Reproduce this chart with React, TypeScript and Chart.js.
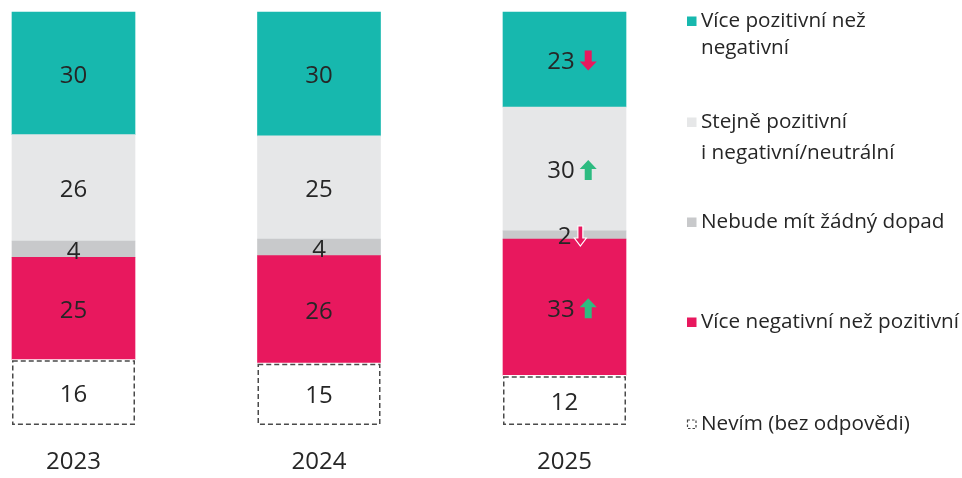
import React, { useEffect, useRef } from 'react';
import { Chart, registerables } from 'chart.js';
Chart.register(...registerables);

// ---- data ----
const years = ['2023', '2024', '2025'];
const dontKnow = [16, 15, 12];
const moreNegative = [25, 26, 33];
const noImpact = [4, 4, 2];
const equally = [26, 25, 30];
const morePositive = [30, 30, 23];

// change vs. previous wave (arrows shown in 2025)
const dontKnowTrend = [null, null, null];
const moreNegativeTrend = [null, null, 'up'];
const noImpactTrend = [null, null, 'down'];
const equallyTrend = [null, null, 'up'];
const morePositiveTrend = [null, null, 'down'];

const seriesNames = [
  'Nevím (bez odpovědi)',
  'Více negativní než pozitivní',
  'Nebude mít žádný dopad',
  'Stejně pozitivní i negativní/neutrální',
  'Více pozitivní než negativní',
];

// legend text lines, top to bottom
const legendPositive = ['Více pozitivní než', 'negativní'];
const legendEqually = ['Stejně pozitivní', 'i negativní/neutrální'];
const legendNoImpact = ['Nebude mít žádný dopad'];
const legendNegative = ['Více negativní než pozitivní'];
const legendDontKnow = ['Nevím (bez odpovědi)'];

// ---- styles ----
const TEAL = '#17b8ae';
const LIGHT = '#e6e7e8';
const MID = '#c8c9cb';
const PINK = '#e8185e';
const GREEN = '#2dbb80';
const TEXT = '#262626';
const FONT = '"Open Sans", sans-serif';

const seriesValues = [dontKnow, moreNegative, noImpact, equally, morePositive];
const seriesTrends = [dontKnowTrend, moreNegativeTrend, noImpactTrend, equallyTrend, morePositiveTrend];
const seriesColors = ['#ffffff', PINK, MID, LIGHT, TEAL];

const totals = years.map((_, i) => seriesValues.reduce((s, arr) => s + arr[i], 0));

function drawArrow(ctx: CanvasRenderingContext2D, cx: number, cy: number, dir: string, small: boolean) {
  const h = 20;
  const headW = small ? 12 : 17;
  const shaftW = small ? 5 : 7;
  const headH = small ? 8 : 9;
  const top = cy - h / 2;
  ctx.save();
  ctx.beginPath();
  if (dir === 'down') {
    ctx.moveTo(cx - shaftW / 2, top);
    ctx.lineTo(cx + shaftW / 2, top);
    ctx.lineTo(cx + shaftW / 2, top + h - headH);
    ctx.lineTo(cx + headW / 2, top + h - headH);
    ctx.lineTo(cx, top + h);
    ctx.lineTo(cx - headW / 2, top + h - headH);
    ctx.lineTo(cx - shaftW / 2, top + h - headH);
  } else {
    const bot = top + h;
    ctx.moveTo(cx - shaftW / 2, bot);
    ctx.lineTo(cx + shaftW / 2, bot);
    ctx.lineTo(cx + shaftW / 2, bot - h + headH);
    ctx.lineTo(cx + headW / 2, bot - h + headH);
    ctx.lineTo(cx, top);
    ctx.lineTo(cx - headW / 2, bot - h + headH);
    ctx.lineTo(cx - shaftW / 2, bot - h + headH);
  }
  ctx.closePath();
  ctx.fillStyle = dir === 'down' ? PINK : GREEN;
  ctx.fill();
  if (small) {
    ctx.strokeStyle = '#ffffff';
    ctx.lineWidth = 1.2;
    ctx.stroke();
  }
  ctx.restore();
}

const overlayPlugin = {
  id: 'overlay',
  afterDatasetsDraw(chart: any) {
    const ctx: CanvasRenderingContext2D = chart.ctx;
    // dashed outline for "Nevím"
    const meta0 = chart.getDatasetMeta(0);
    ctx.save();
    ctx.setLineDash([5, 3]);
    ctx.strokeStyle = '#4a4a4a';
    ctx.lineWidth = 1.5;
    meta0.data.forEach((el: any) => {
      const p = el.getProps(['x', 'y', 'base', 'width'], true);
      ctx.strokeRect(p.x - p.width / 2 + 0.75, p.y + 1.5, p.width - 1.5, p.base - p.y - 2.25);
    });
    ctx.restore();

    // value labels (+ trend arrows)
    ctx.save();
    ctx.font = `400 24px ${FONT}`;
    ctx.fillStyle = TEXT;
    ctx.textBaseline = 'middle';
    seriesValues.forEach((vals, di) => {
      const meta = chart.getDatasetMeta(di);
      meta.data.forEach((el: any, i: number) => {
        const p = el.getProps(['x', 'y', 'base', 'width'], true);
        const cy = (p.y + p.base) / 2 + 2.5;
        const txt = String(vals[i]);
        const trend = seriesTrends[di][i];
        if (!trend) {
          ctx.textAlign = 'center';
          ctx.fillText(txt, p.x, cy);
        } else {
          const small = di === 2;
          const w = ctx.measureText(txt).width;
          const aw = small ? 12 : 17;
          const gap = small ? 3 : 5;
          const total = w + gap + aw;
          const start = p.x + 7.5 - total / 2;
          ctx.textAlign = 'left';
          ctx.fillText(txt, start, cy);
          drawArrow(ctx, start + w + gap + aw / 2, cy - 1.5, trend, small);
        }
      });
    });
    ctx.restore();

    // legend
    const items = [
      { lines: legendPositive, color: TEAL, base: 27, step: 27 },
      { lines: legendEqually, color: LIGHT, base: 128, step: 31 },
      { lines: legendNoImpact, color: MID, base: 228, step: 0 },
      { lines: legendNegative, color: PINK, base: 328, step: 0 },
      { lines: legendDontKnow, color: null, base: 430, step: 0 },
    ];
    ctx.save();
    ctx.font = `500 20.7px ${FONT}`;
    ctx.textAlign = 'left';
    ctx.textBaseline = 'alphabetic';
    items.forEach((it) => {
      const mx = 687, my = it.base - 10.5, ms = 9.5;
      if (it.color) {
        ctx.fillStyle = it.color;
        ctx.fillRect(mx, my, ms, ms);
      } else {
        ctx.save();
        ctx.setLineDash([2.5, 2]);
        ctx.strokeStyle = '#444';
        ctx.lineWidth = 1.2;
        ctx.strokeRect(mx + 0.5, my + 0.5, ms - 1, ms - 1);
        ctx.restore();
      }
      ctx.fillStyle = TEXT;
      it.lines.forEach((ln, k) => ctx.fillText(ln, 701, it.base + k * it.step));
    });
    ctx.restore();
  },
};

export default function App() {
  const ref = useRef<HTMLCanvasElement | null>(null);
  useEffect(() => {
    if (!ref.current) return;
    const chart = new Chart(ref.current, {
      type: 'bar',
      data: {
        labels: years,
        datasets: seriesValues.map((vals, di) => ({
          label: seriesNames[di],
          data: vals.map((v, i) => (v / totals[i]) * 100),
          backgroundColor: seriesColors[di],
          borderWidth: 0,
          barThickness: 123,
          clip: false as any,
        })),
      },
      options: {
        responsive: false,
        animation: false,
        layout: { padding: { left: 73.5, right: 397.5, top: 12, bottom: 0 } },
        plugins: { legend: { display: false }, tooltip: { enabled: false } },
        scales: {
          x: {
            stacked: true,
            offset: false,
            grid: { display: false, drawTicks: false },
            border: { display: false },
            ticks: { font: { family: FONT, size: 24 }, color: TEXT, padding: 23 },
            afterFit: (s: any) => { s.height = 53; },
          },
          y: { stacked: true, display: false, min: 0, max: 100 },
        },
      },
      plugins: [overlayPlugin],
    });
    return () => chart.destroy();
  }, []);
  return (
    <canvas
      ref={ref}
      width={962}
      height={478}
      style={{ position: 'absolute', left: 0, top: 0, display: 'block', width: 962, height: 478 }}
    />
  );
}
